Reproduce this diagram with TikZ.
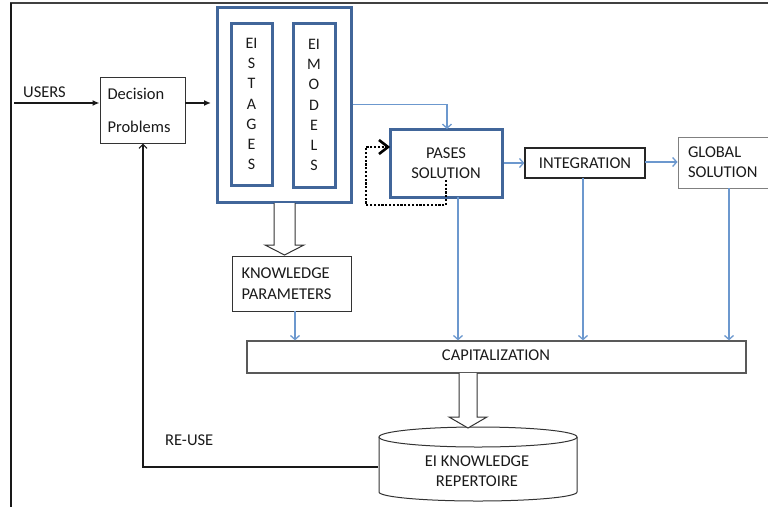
\documentclass[tikz,border=0pt]{standalone}
\usepackage{fontspec}
\setmainfont{Carlito}
\usetikzlibrary{arrows.meta}
\definecolor{boxblue}{HTML}{41669A}
\definecolor{lineblue}{HTML}{6C98CE}
\definecolor{txt}{HTML}{1A1A1A}
\tikzset{
  txtfont/.style={font=\fontsize{16.5}{20}\selectfont},
  graybox/.style={draw=black!80, line width=1pt, fill=white, inner sep=0pt},
  thickblue/.style={draw=boxblue, line width=3pt, inner sep=0pt},
  blk/.style={draw=black!90, line width=1.4pt},
  blkarrow/.style={blk, -{Latex[length=7pt,width=6pt]}},
  bluearrow/.style={draw=lineblue, line width=1.3pt, -{Straight Barb[length=4pt,width=9pt,line width=1.3pt]}},
  loopline/.style={draw=black, line width=2.8pt, dash pattern=on 2.2pt off 1.6pt},
  blockarrow/.style={draw=black!80, line width=1pt, fill=white, line join=miter},
}
\begin{document}
\begin{tikzpicture}[x=1pt,y=-1pt, every node/.style={text=txt, txtfont}]
\useasboundingbox (0,0) rectangle (768,507);
% frame
\draw[black!75, line width=1.6pt] (10,3) -- (768,3);
\draw[black!90, line width=1.5pt] (11,3) -- (11,507);

% nodes
\node[graybox, minimum width=85pt, minimum height=66pt, text width=70pt, align=left] (dec) at (142.5,110) {Decision\\[13pt]Problems};
\node[anchor=west, inner sep=0pt] (users) at (23,92) {USERS};
\node[thickblue, minimum width=134pt, minimum height=195pt] (big) at (284,104.5) {};
\node[thickblue, minimum width=41pt, minimum height=162pt, align=center, font=\fontsize{16}{20.2}\selectfont] (stages) at (251.5,104) {EI\\S\\T\\A\\G\\E\\S};
\node[thickblue, minimum width=42pt, minimum height=164pt, align=center, font=\fontsize{16}{20.2}\selectfont] (models) at (314,105) {EI\\M\\O\\D\\E\\L\\S};
\node[thickblue, minimum width=112pt, minimum height=68pt, align=center] (pases) at (446,163) {PASES\\SOLUTION};
\node[graybox, draw=black!85, line width=1.3pt, minimum width=120pt, minimum height=30pt] (integ) at (585,163) {INTEGRATION};
\node[graybox, draw=black!50, minimum width=94pt, minimum height=51pt, text width=74pt, align=left] (global) at (725,162.5) {GLOBAL\\SOLUTION};
\node[graybox, minimum width=119pt, minimum height=55pt, text width=100pt, align=left] (know) at (291.5,283.5) {KNOWLEDGE\\[1pt]PARAMETERS};
\node[graybox, draw=black!65, line width=1.3pt, minimum width=499pt, minimum height=32pt] (cap) at (496.5,357) {};
\node[inner sep=0pt] (captext) at (496,355) {CAPITALIZATION};
\node[anchor=west, inner sep=0pt] (reuse) at (165,440) {RE-USE};

% cylinder
\draw[black!80, line width=1pt, fill=white] (379,437) -- (379,492) arc[start angle=180, end angle=0, x radius=99, y radius=9] -- (577,437);
\draw[black!80, line width=1pt, fill=white] (478,437) ellipse [x radius=99, y radius=10];
\node[minimum width=198pt, minimum height=64pt, inner sep=0pt, align=center] (rep) at (477,471) {EI KNOWLEDGE\\REPERTOIRE};

% black connectors
\coordinate (uin) at (14,103);
\draw[blkarrow] (uin) -- (dec.west |- uin);
\coordinate (dout) at (185,103);
\coordinate (bigin) at (211,103);
\draw[blkarrow] (dout) -- (bigin);
\coordinate (reusecorner) at (143,467);
\draw[blk, -{Straight Barb[length=4pt,width=8pt,line width=1.2pt]}] (rep.west |- reusecorner) -- (reusecorner) -- (reusecorner |- dec.south);

% blue connectors
\coordinate (pin) at (447,129);
\draw[bluearrow] (big.east) -| (pin);
\draw[bluearrow] (pases.east) -- (integ.west);
\coordinate (iout) at (645,162);
\draw[bluearrow, line width=1.8pt] (iout) -- (global.west |- iout);
\coordinate (p1) at (458,197);
\coordinate (p2) at (583,178);
\coordinate (p3) at (729,188);
\coordinate (p0) at (295,311);
\draw[bluearrow] (p0) -- (p0 |- cap.north);
\draw[bluearrow] (p1) -- (p1 |- cap.north);
\draw[bluearrow] (p2) -- (p2 |- cap.north);
\draw[bluearrow] (p3) -- (p3 |- cap.north);

% dotted self loop
\coordinate (l0) at (446,180);
\coordinate (l1) at (446,205);
\coordinate (l2) at (366,205);
\coordinate (l3) at (366,147);
\coordinate (l4) at (389,147);
\draw[loopline] (l0) -- (l1) -- (l2) -- (l3) -- (l4);
\draw[black, line width=2.6pt] (379,140) -- (388,147) -- (379,154);

% block arrows
\draw[blockarrow] (274,203) -- (274,245) -- (265,245) -- (284.5,255) -- (304,245) -- (295,245) -- (295,203);
\draw[blockarrow] (459,373) -- (459,417) -- (449,417) -- (468,428) -- (487,417) -- (477,417) -- (477,373);
\end{tikzpicture}
\end{document}
